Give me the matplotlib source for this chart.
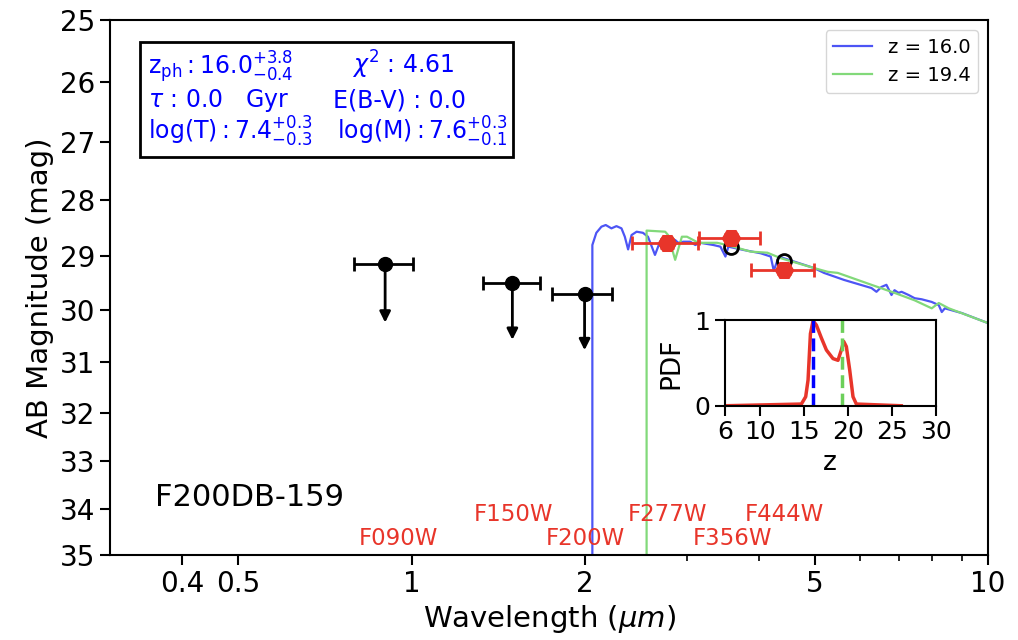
import numpy as np
import matplotlib
matplotlib.use('Agg')
import matplotlib.pyplot as plt
from matplotlib.patches import Rectangle
from matplotlib.ticker import NullFormatter, NullLocator

# SED models (wavelength in micron, AB mag)
blue_wave = [2.00, 2.059, 2.059, 2.092, 2.135, 2.172, 2.222, 2.267, 2.313, 2.344,
             2.375, 2.408, 2.457, 2.520, 2.571, 2.644, 2.698, 2.772, 2.866, 2.901,
             2.960, 3.044, 3.106, 3.169, 3.338, 3.434, 3.503, 3.545, 3.767, 4.033,
             4.198, 4.249, 4.335, 4.990, 5.194, 5.628, 6.277, 6.404, 6.531, 6.664,
             6.800, 6.882, 6.994, 7.079, 7.281, 7.459, 7.671, 7.985, 8.212, 8.312,
             8.414, 9.008, 10.0]
blue_mag = [60, 60, 28.80, 28.58, 28.47, 28.44, 28.50, 28.46, 28.50, 28.65,
            28.88, 28.62, 28.56, 28.58, 28.65, 28.98, 28.74, 28.74, 28.71, 28.76,
            28.74, 28.74, 28.80, 28.76, 28.80, 28.83, 29.01, 28.83, 28.89, 28.95,
            29.01, 29.27, 29.01, 29.22, 29.31, 29.44, 29.59, 29.66, 29.57, 29.53,
            29.72, 29.63, 29.68, 29.66, 29.72, 29.78, 29.80, 29.85, 29.91, 30.04,
            29.97, 30.06, 30.25]

green_wave = [2.50, 2.557, 2.557, 2.754, 2.786, 2.866, 2.944, 3.004, 3.081, 3.144,
              3.255, 3.388, 3.527, 3.672, 3.873, 4.143, 4.370, 4.990, 5.272, 5.488,
              6.277, 6.882, 7.459, 7.985, 8.212, 8.550, 10.0]
green_mag = [60, 60, 28.54, 28.56, 28.62, 29.07, 28.65, 28.65, 28.71, 28.76,
             28.76, 28.76, 28.80, 28.85, 28.92, 28.94, 29.04, 29.22, 29.29, 29.31,
             29.53, 29.68, 29.82, 29.97, 29.87, 29.97, 30.25]

# upper limits
lim_wave = [0.900, 1.496, 1.996]
lim_mag = [29.15, 29.50, 29.70]
lim_lo = [0.795, 1.330, 1.754]
lim_hi = [1.004, 1.670, 2.229]
lim_arrow = [30.24, 30.57, 30.77]

# detections
det_wave = [2.772, 3.585, 4.43]
det_mag = [28.77, 28.68, 29.25]
det_err = [0.08, 0.07, 0.08]
det_lo = [2.408, 3.146, 3.873]
det_hi = [3.137, 4.015, 4.995]
model_mag = [28.76, 28.84, 29.09]

filters = ['F090W', 'F150W', 'F200W', 'F277W', 'F356W', 'F444W']
filt_x = [0.95, 1.50, 2.00, 2.78, 3.60, 4.43]
filt_y = [34.63, 34.13, 34.63, 34.13, 34.63, 34.13]

# photo-z PDF
pdf_z = [6, 14.72, 15.21, 15.48, 15.75, 16.05, 16.43, 17.0, 17.57, 18.32,
         18.89, 19.27, 19.54, 19.84, 20.22, 20.6, 20.98, 26.1]
pdf_p = [0, 0.02, 0.105, 0.30, 0.84, 0.99, 0.94, 0.79, 0.65, 0.55,
         0.53, 0.65, 0.75, 0.69, 0.42, 0.105, 0.02, 0]
z_best = 16.0
z_second = 19.4

c_blue = '#4d55f5'
c_green = '#82d97a'
c_red = '#e8352a'

fig = plt.figure(figsize=(10.18, 6.4), dpi=100)
ax = fig.add_axes([0.1081, 0.1328, 0.8625, 0.8359])

ax.plot(blue_wave, blue_mag, color=c_blue, lw=1.6, label='z = 16.0')
ax.plot(green_wave, green_mag, color=c_green, lw=1.6, label='z = 19.4')

# upper limits with arrows
ax.errorbar(lim_wave, lim_mag,
            xerr=[np.subtract(lim_wave, lim_lo), np.subtract(lim_hi, lim_wave)],
            fmt='o', color='k', ms=10, capsize=5, elinewidth=2, capthick=2, zorder=5)
for w, m, a in zip(lim_wave, lim_mag, lim_arrow):
    ax.annotate('', xy=(w, a), xytext=(w, m),
                arrowprops=dict(arrowstyle='-|>', color='k', lw=2, mutation_scale=16,
                                shrinkA=0, shrinkB=0), zorder=5)

ax.plot(det_wave, model_mag, 'o', mfc='none', mec='k', mew=2, ms=10, zorder=6)
ax.errorbar(det_wave, det_mag, yerr=det_err,
            xerr=[np.subtract(det_wave, det_lo), np.subtract(det_hi, det_wave)],
            fmt='H', color=c_red, ms=13, capsize=5, elinewidth=2, capthick=2, zorder=7)

for f, x, y in zip(filters, filt_x, filt_y):
    ax.text(x, y, f, color=c_red, fontsize=16.5, ha='center', va='center')

ax.set_xscale('log')
ax.set_yscale('log')
ax.set_xlim(0.3, 10)
ax.set_ylim(35, 25)
ax.set_xticks([0.4, 0.5, 1, 2, 5, 10])
ax.set_xticklabels(['0.4', '0.5', '1', '2', '5', '10'])
ax.set_xticks([3, 4, 6, 7, 8, 9], minor=True)
ax.xaxis.set_minor_formatter(NullFormatter())
ax.set_yticks(range(25, 36))
ax.set_yticklabels([str(v) for v in range(25, 36)])
ax.yaxis.set_minor_locator(NullLocator())
ax.tick_params(which='major', labelsize=20, length=7, width=1.5)
ax.tick_params(which='minor', length=4, width=1.2)
for s in ax.spines.values():
    s.set_linewidth(1.5)
ax.set_xlabel(r'Wavelength ($\mu m$)', fontsize=21)
ax.set_ylabel('AB Magnitude (mag)', fontsize=21)

ax.legend(loc='upper right', fontsize=14)

# info box
ax.add_patch(Rectangle((0.0342, 0.744), 0.4248, 0.2149, transform=ax.transAxes,
                       fill=False, ec='k', lw=2, zorder=8))
tkw = dict(transform=ax.transAxes, color='b', fontsize=17, va='baseline')
ax.text(0.0433, 0.899, r'$\rm z_{ph}:16.0^{+3.8}_{-0.4}$', **tkw)
ax.text(0.2756, 0.899, r'$\chi^2$ : 4.61', **tkw)
ax.text(0.0433, 0.837, r'$\tau$ : 0.0   Gyr', **tkw)
ax.text(0.254, 0.837, 'E(B-V) : 0.0', **tkw)
ax.text(0.0433, 0.776, r'$\rm log(T):7.4^{+0.3}_{-0.3}$', **tkw)
ax.text(0.2585, 0.776, r'$\rm log(M):7.6^{+0.3}_{-0.1}$', **tkw)

ax.text(0.051, 0.108, 'F200DB-159', transform=ax.transAxes, fontsize=22, va='center')

# inset PDF
ins = fig.add_axes([0.712, 0.366, 0.207, 0.134])
ins.plot(pdf_z, pdf_p, color=c_red, lw=2.5)
ins.plot([z_best, z_best], [0, 1], '--', color='b', lw=2.5)
ins.plot([z_second, z_second], [0, 1], '--', color='#6ccf5a', lw=2.5)
ins.set_xlim(6, 30)
ins.set_ylim(0, 1)
ins.set_xticks([6, 10, 15, 20, 25, 30])
ins.set_yticks([0, 1])
ins.tick_params(labelsize=18, length=7, width=1.5)
for s in ins.spines.values():
    s.set_linewidth(1.5)
ins.set_xlabel('z', fontsize=19)
ins.set_ylabel('PDF', fontsize=19, labelpad=7)

fig.savefig('out.png', dpi=100)
